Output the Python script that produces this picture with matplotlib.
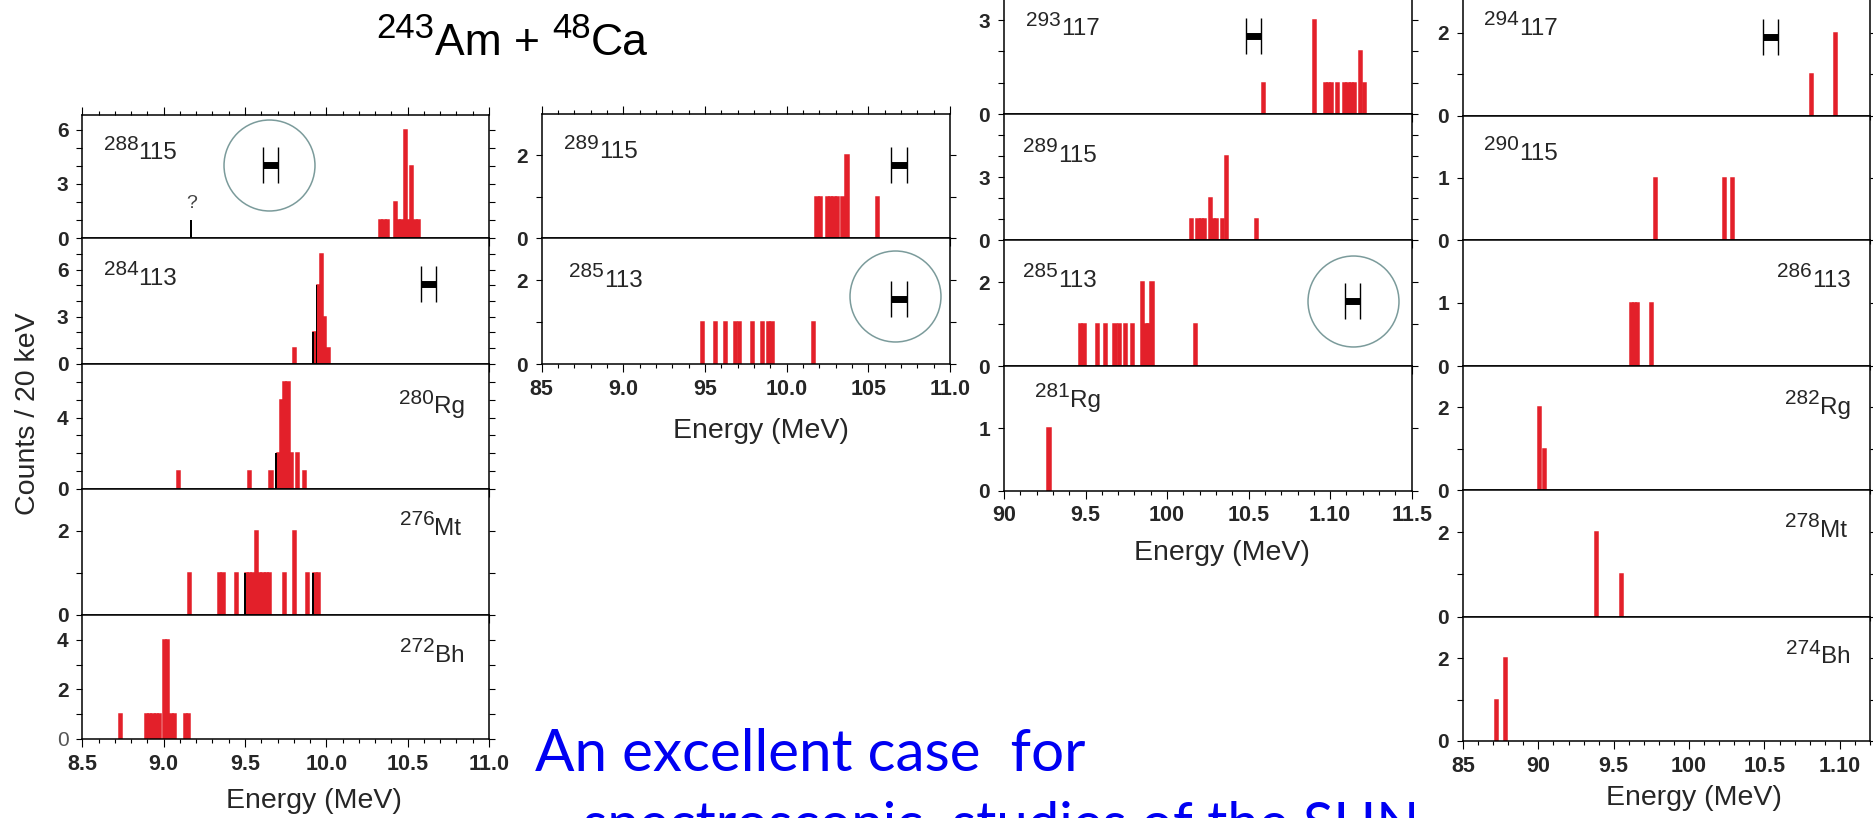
import math
import matplotlib
matplotlib.use("Agg")
import matplotlib.pyplot as plt
from matplotlib.ticker import FixedLocator, FixedFormatter, FuncFormatter, MultipleLocator

plt.rcParams['font.family'] = ['Liberation Sans', 'DejaVu Sans']
plt.rcParams['font.weight'] = 'bold'

W, H, DPI = 1874, 818, 100
RED = '#e3202a'
INK = '#262626'
RING = '#7b9b9b'
BLUE = '#0000f2'

# ---------------- alpha spectra: bin centre (MeV) and counts / 20 keV ----------------
# 243Am + 48Ca -> 288115 chain
e_115_288 = [10.335, 10.355, 10.375, 10.425, 10.445, 10.465, 10.485, 10.505, 10.525, 10.545, 10.565]
n_115_288 = [1, 1, 1, 2, 1, 1, 6, 1, 4, 1, 1]
e_115_288_k = [9.17]
n_115_288_k = [1]

e_113_284 = [9.805, 9.93, 9.95, 9.97, 9.99, 10.01]
n_113_284 = [1, 2, 5, 7, 3, 1]
e_113_284_k = [9.92, 9.94]
n_113_284_k = [2, 5]

e_rg_280 = [9.09, 9.53, 9.66, 9.705, 9.725, 9.745, 9.765, 9.785, 9.825, 9.865]
n_rg_280 = [1, 1, 1, 2, 5, 6, 6, 2, 2, 1]
e_rg_280_k = [9.69]
n_rg_280_k = [2]

e_mt_276 = [9.16, 9.345, 9.365, 9.45, 9.51, 9.53, 9.55, 9.57, 9.59, 9.61, 9.63, 9.65,
            9.745, 9.805, 9.885, 9.93, 9.95]
n_mt_276 = [1, 1, 1, 1, 1, 1, 1, 2, 1, 1, 1, 1, 1, 2, 1, 1, 1]
e_mt_276_k = [9.50, 9.92]
n_mt_276_k = [1, 1]

e_bh_272 = [8.735, 8.895, 8.915, 8.935, 8.955, 8.975, 9.005, 9.025, 9.045, 9.065, 9.135, 9.155]
n_bh_272 = [1, 1, 1, 1, 1, 1, 4, 4, 1, 1, 1, 1]

# 243Am + 48Ca -> 289115 chain
e_115_289a = [10.185, 10.205, 10.25, 10.27, 10.29, 10.31, 10.345, 10.37, 10.555]
n_115_289a = [1, 1, 1, 1, 1, 1, 1, 2, 1]
e_113_285a = [9.485, 9.565, 9.625, 9.685, 9.71, 9.79, 9.85, 9.89, 9.91, 10.165]
n_113_285a = [1, 1, 1, 1, 1, 1, 1, 1, 1, 1]

# 293117 chain
e_117_293 = [10.59, 10.905, 10.97, 10.99, 11.01, 11.045, 11.09, 11.11, 11.13, 11.15, 11.185, 11.21]
n_117_293 = [1, 3, 1, 1, 1, 1, 1, 1, 1, 1, 2, 1]
e_115_289b = [10.15, 10.19, 10.21, 10.23, 10.265, 10.285, 10.305, 10.34, 10.365, 10.55]
n_115_289b = [1, 1, 1, 1, 2, 1, 1, 1, 4, 1]
e_113_285b = [9.47, 9.49, 9.573, 9.624, 9.68, 9.71, 9.746, 9.787, 9.848, 9.87, 9.885, 9.908, 10.176]
n_113_285b = [1, 1, 1, 1, 1, 1, 1, 1, 2, 1, 1, 2, 1]
e_rg_281 = [9.276]
n_rg_281 = [1]

# 294117 chain
e_117_294 = [10.812, 10.972]
n_117_294 = [1, 2]
e_115_290 = [9.774, 10.233, 10.289]
n_115_290 = [1, 1, 1]
e_113_286 = [9.615, 9.635, 9.655, 9.751]
n_113_286 = [1, 1, 1, 1]
e_rg_282 = [9.01, 9.04]
n_rg_282 = [2, 1]
e_mt_278 = [9.387, 9.553]
n_mt_278 = [2, 1]
e_bh_274 = [8.724, 8.784]
n_bh_274 = [1, 2]

# energy-axis tick labels of the bottom panel in each column
ticks_A = ["8.5", "9.0", "9.5", "10.0", "10.5", "11.0"]
ticks_B = ["85", "9.0", "95", "10.0", "105", "11.0"]
ticks_C = ["90", "9.5", "100", "10.5", "1.10", "11.5"]
ticks_D = ["85", "90", "9.5", "100", "10.5", "1.10"]

# ---------------- layout (pixels from the top-left corner) ----------------
col_A = dict(x0=82.3, x1=489.0, xlim=(8.5, 11.0), edges=[115, 238, 364, 489, 615, 739],
             ticks=ticks_A, xlabel=(314, 808))
col_B = dict(x0=541.7, x1=950.0, xlim=(8.5, 11.0), edges=[114, 238.3, 364.3],
             ticks=ticks_B, xlabel=(761, 438))
col_C = dict(x0=1004.0, x1=1411.7, xlim=(9.0, 11.5), edges=[-11.4, 114.3, 240, 366, 490.7],
             ticks=ticks_C, xlabel=(1222, 560))
col_D = dict(x0=1463.0, x1=1870.0, xlim=(8.5, 11.2), edges=[-8.6, 115.7, 240, 366, 490, 616.7, 741],
             ticks=ticks_D, xlabel=(1694, 805))

panels_A = [
    dict(E=e_115_288, N=n_115_288, kE=e_115_288_k, kN=n_115_288_k, ymax=6.83, shown=(0, 3, 6),
         label=("288", "115", 0.053, 0.64, 'left'), res=(9.656, 4.07), ring=(9.65, 4.06),
         note=("?", 9.17, 1.45)),
    dict(E=e_113_284, N=n_113_284, kE=e_113_284_k, kN=n_113_284_k, ymax=8, shown=(0, 3, 6),
         label=("284", "113", 0.053, 0.627, 'left'), res=(10.63, 5.1)),
    dict(E=e_rg_280, N=n_rg_280, kE=e_rg_280_k, kN=n_rg_280_k, ymax=7, shown=(0, 4),
         label=("280", "Rg", 0.94, 0.606, 'right')),
    dict(E=e_mt_276, N=n_mt_276, kE=e_mt_276_k, kN=n_mt_276_k, ymax=3, shown=(0, 2),
         label=("276", "Mt", 0.932, 0.635, 'right')),
    dict(E=e_bh_272, N=n_bh_272, ymax=5, shown=(0, 2, 4),
         label=("272", "Bh", 0.94, 0.623, 'right'), light_zero=True),
]
panels_B = [
    dict(E=e_115_289a, N=n_115_289a, ymax=3, shown=(0, 2),
         label=("289", "115", 0.055, 0.644, 'left'), res=(10.688, 1.77)),
    dict(E=e_113_285a, N=n_113_285a, ymax=3, shown=(0, 2),
         label=("285", "113", 0.067, 0.616, 'left'), res=(10.688, 1.55), ring=(10.663, 1.62)),
]
panels_C = [
    dict(E=e_117_293, N=n_117_293, ymax=4, shown=(0, 3),
         label=("293", "117", 0.055, 0.63, 'left'), res=(10.529, 2.49)),
    dict(E=e_115_289b, N=n_115_289b, ymax=6, shown=(0, 3),
         label=("289", "115", 0.047, 0.623, 'left')),
    dict(E=e_113_285b, N=n_113_285b, ymax=3, shown=(0, 2),
         label=("285", "113", 0.047, 0.63, 'left'), res=(11.137, 1.545), ring=(11.137, 1.545)),
    dict(E=e_rg_281, N=n_rg_281, ymax=2, shown=(0, 1),
         label=("281", "Rg", 0.076, 0.674, 'left')),
]
panels_D = [
    dict(E=e_117_294, N=n_117_294, ymax=3, shown=(0, 2),
         label=("294", "117", 0.052, 0.65, 'left'), res=(10.54, 1.89)),
    dict(E=e_115_290, N=n_115_290, ymax=2, shown=(0, 1),
         label=("290", "115", 0.052, 0.644, 'left')),
    dict(E=e_113_286, N=n_113_286, ymax=2, shown=(0, 1),
         label=("286", "113", 0.953, 0.63, 'right')),
    dict(E=e_rg_282, N=n_rg_282, ymax=3, shown=(0, 2),
         label=("282", "Rg", 0.953, 0.613, 'right')),
    dict(E=e_mt_278, N=n_mt_278, ymax=3, shown=(0, 2),
         label=("278", "Mt", 0.943, 0.631, 'right')),
    dict(E=e_bh_274, N=n_bh_274, ymax=3, shown=(0, 2),
         label=("274", "Bh", 0.953, 0.625, 'right')),
]

fig = plt.figure(figsize=(W / DPI, H / DPI), dpi=DPI)
fig.patch.set_facecolor('white')
renderer = fig.canvas.get_renderer()


def chain_text(x_px, y_px, pieces, ha='left', **kw):
    """Place text pieces side by side on one baseline; each piece may be raised (px)."""
    arts, widths = [], []
    for s, fs, rise in pieces:
        t = fig.text(0, 0, s, fontsize=fs, va='baseline', ha='left', fontweight='normal', **kw)
        widths.append(t.get_window_extent(renderer).width)
        arts.append((t, rise))
    x = x_px if ha == 'left' else x_px - sum(widths)
    for (t, rise), w in zip(arts, widths):
        t.set_position((x / W, 1 - (y_px - rise) / H))
        x += w


def draw_column(col, panels):
    n = len(panels)
    for i, spec in enumerate(panels):
        top, bot = col['edges'][i], col['edges'][i + 1]
        x0, x1 = col['x0'], col['x1']
        ax = fig.add_axes([x0 / W, 1 - bot / H, (x1 - x0) / W, (bot - top) / H])
        ax.bar(spec['E'], spec['N'], width=0.02, color=RED, edgecolor=RED,
               linewidth=1.1, zorder=2)
        if 'kE' in spec:
            ax.bar(spec['kE'], spec['kN'], width=0.011, color='black', linewidth=0, zorder=2.2)
        ax.set_xlim(*col['xlim'])
        ax.set_ylim(0, spec['ymax'])
        for sp in ax.spines.values():
            sp.set_linewidth(1.1)

        last = (i == n - 1)
        if last:
            majors = [col['xlim'][0] + 0.5 * k for k in range(len(col['ticks']))]
            ax.xaxis.set_major_locator(FixedLocator(majors))
            ax.xaxis.set_major_formatter(FixedFormatter(col['ticks']))
        else:
            ax.xaxis.set_major_locator(MultipleLocator(0.5))
        ax.xaxis.set_minor_locator(MultipleLocator(0.1))
        ax.tick_params(axis='x', which='both', direction='out', top=(i == 0), bottom=True,
                       labelbottom=last, labeltop=False, width=0.8, colors='black',
                       labelcolor=INK, labelsize=15.5, pad=5)
        ax.tick_params(axis='x', which='major', length=5.5)
        ax.tick_params(axis='x', which='minor', length=3)

        yt = list(range(0, int(math.ceil(spec['ymax'] - 1e-6))))
        ax.yaxis.set_major_locator(FixedLocator(yt))
        shown = spec['shown']
        ax.yaxis.set_major_formatter(FuncFormatter(
            lambda v, p, s=shown: str(int(round(v))) if int(round(v)) in s else ''))
        ax.tick_params(axis='y', which='both', direction='out', left=True, right=True,
                       length=4.5, width=0.8, labelcolor=INK, labelsize=15, pad=5.5)

        if spec.get('light_zero'):
            lab = ax.get_yticklabels()[0]
            lab.set_fontweight('normal')
            lab.set_color('#555555')

        if 'res' in spec:
            rx, ry = spec['res']
            ax.errorbar([rx], [ry], xerr=[0.047], fmt='none', ecolor='black',
                        elinewidth=5, capsize=13, capthick=1.0, zorder=4)
        if 'ring' in spec:
            cx, cy = spec['ring']
            ax.plot([cx], [cy], marker='o', ms=65.5, mfc='none', mec=RING, mew=1.1,
                    linestyle='none', clip_on=False, zorder=3)
        if 'note' in spec:
            s, nx, ny = spec['note']
            ax.text(nx, ny, s, ha='center', va='bottom', fontsize=14, color='#444444',
                    fontweight='normal')

        mass, sym, fx, fy, ha = spec['label']
        lx = x0 + fx * (x1 - x0)
        ly = top + (1 - fy) * (bot - top)
        chain_text(lx, ly, [(mass, 15, 9.5), (sym, 17.5, 0.0)], ha=ha, color=INK)

    ex, ey = col['xlabel']
    fig.text(ex / W, 1 - ey / H, "Energy (MeV)", ha='center', va='baseline',
             fontsize=20.5, color=INK, fontweight='normal')


draw_column(col_A, panels_A)
draw_column(col_B, panels_B)
draw_column(col_C, panels_C)
draw_column(col_D, panels_D)

fig.text(28 / W, 1 - 414 / H, "Counts / 20 keV", rotation=90, ha='center', va='center',
         fontsize=20.5, color=INK, fontweight='normal')

# reaction title
chain_text(376.7, 55, [("243", 25, 16.7), ("Am + ", 32, 0), ("48", 25, 16.7), ("Ca", 32, 0)],
           color='black')

# comment in blue
fig.text(535 / W, 1 - 771 / H, "An excellent case  for", fontsize=42, color=BLUE,
         family='Lato', fontweight='normal', va='baseline', ha='left')
fig.text(583 / W, 1 - 842 / H, "spectroscopic  studies of the SHN", fontsize=40.5, color=BLUE,
         family='Lato', fontweight='normal', va='baseline', ha='left')

fig.savefig("out.png", dpi=DPI)
